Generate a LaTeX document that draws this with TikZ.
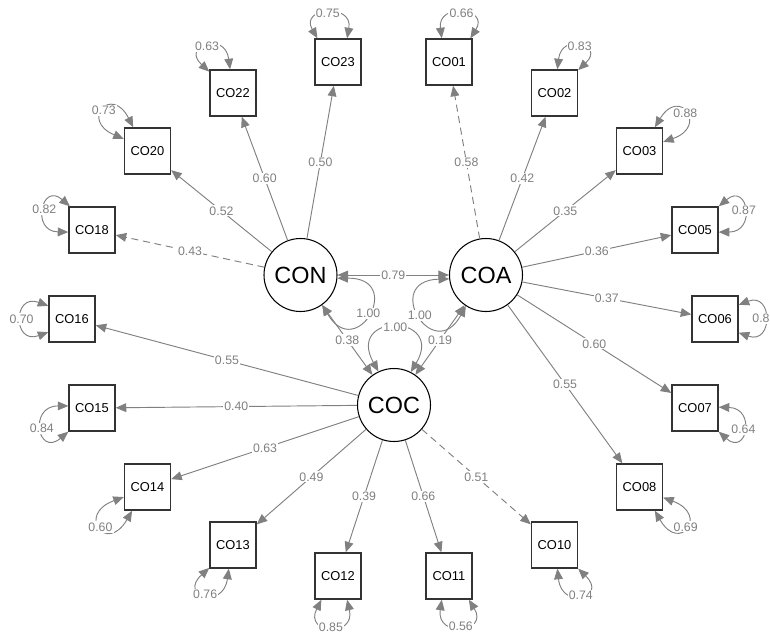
\documentclass[tikz,border=0pt]{standalone}
\usepackage{fontspec}
\setmainfont{Liberation Sans}
\usetikzlibrary{arrows.meta}

\begin{document}
\begin{tikzpicture}[x=0.03cm, y=0.03cm,
	obs/.style={draw=black!80, line width=1.2pt, minimum size=1.38cm, inner sep=0pt, font=\fontsize{11}{13}\selectfont},
	lat/.style={circle, draw, line width=0.9pt, minimum size=2.19cm, inner sep=0pt, font=\fontsize{20}{24}\selectfont},
	lab/.style={fill=white, inner sep=1pt, text=gray, font=\fontsize{10.5}{12}\selectfont},
	load/.style={color=gray, line width=0.8pt, -{Triangle[length=9pt,width=7.5pt]}},
	cov/.style={color=gray, line width=0.8pt, {Triangle[length=9pt,width=7.5pt]}-{Triangle[length=9pt,width=7.5pt]}},
	fixed/.style={dash pattern=on 6pt off 4pt}]
	\useasboundingbox (0,0) rectangle (770,-635);

	\node[lat] (CON) at (300.5,-275) {CON};
	\node[lat] (COA) at (486,-275) {COA};
	\node[lat] (COC) at (394,-405) {COC};

	\node[obs] (co23) at (338,-62) {CO23};
	\node[obs] (co22) at (233,-93) {CO22};
	\node[obs] (co20) at (147.5,-151) {CO20};
	\node[obs] (co18) at (92,-230) {CO18};
	\node[obs] (co16) at (72,-319) {CO16};
	\node[obs] (co15) at (92,-408) {CO15};
	\node[obs] (co14) at (147.5,-487) {CO14};
	\node[obs] (co13) at (233,-545) {CO13};
	\node[obs] (co12) at (338,-576) {CO12};
	\node[obs] (co11) at (449,-576) {CO11};
	\node[obs] (co10) at (554.5,-545) {CO10};
	\node[obs] (co08) at (639.5,-487) {CO08};
	\node[obs] (co07) at (695,-408) {CO07};
	\node[obs] (co06) at (715,-319) {CO06};
	\node[obs] (co05) at (695,-230) {CO05};
	\node[obs] (co03) at (639.5,-151) {CO03};
	\node[obs] (co02) at (554.5,-93) {CO02};
	\node[obs] (co01) at (449,-62) {CO01};

	% loadings
	\path[load]
	(CON) edge[fixed] node[lab] {0.43} (co18)
	edge node[lab] {0.52} (co20)
	edge node[lab] {0.60} (co22)
	edge node[lab] {0.50} (co23)
	(COA) edge[fixed] node[lab] {0.58} (co01)
	edge node[lab] {0.42} (co02)
	edge node[lab] {0.35} (co03)
	edge node[lab] {0.36} (co05)
	edge node[lab] {0.37} (co06)
	edge node[lab] {0.60} (co07)
	edge node[lab] {0.55} (co08)
	(COC) edge[fixed] node[lab] {0.51} (co10)
	edge node[lab] {0.66} (co11)
	edge node[lab] {0.39} (co12)
	edge node[lab] {0.49} (co13)
	edge node[lab] {0.63} (co14)
	edge node[lab] {0.40} (co15)
	edge node[lab] {0.55} (co16)
	;
	% covariances
	\path[cov]
	(CON) edge node[lab] {0.79} (COA)
	edge node[lab] {0.38} (COC)
	(COA) edge node[lab] {0.19} (COC)
	;
	% variances
	\path[cov]
	(CON.-5) edge[out=0.5, in=-59.5, distance=2.04cm] node[lab] {1.00} (CON.-54)
	(COA.237) edge[out=241.5, in=181.5, distance=2.04cm] node[lab] {1.00} (COA.186)
	(COC.115) edge[out=119, in=59, distance=2.04cm] node[lab] {1.00} (COC.63)
	(co23.131) edge[out=120, in=80, distance=1.08cm] node[lab] {0.75} (co23.69)
	(co22.138) edge[out=137.5, in=97.5, distance=1.17cm] node[lab] {0.63} (co22.97)
	(co20.153) edge[out=157, in=117, distance=1.44cm] node[lab] {0.73} (co20.121)
	(co18.185) edge[out=179, in=139, distance=1.13cm] node[lab] {0.82} (co18.133)
	(co16.209) edge[out=200, in=160, distance=1.14cm] node[lab] {0.70} (co16.151)
	(co15.225) edge[out=220, in=180, distance=1.2cm] node[lab] {0.84} (co15.175)
	(co14.237) edge[out=240, in=200, distance=1.53cm] node[lab] {0.60} (co14.203)
	(co13.260) edge[out=262, in=222, distance=1.26cm] node[lab] {0.76} (co13.224)
	(co12.291) edge[out=283, in=243, distance=1.17cm] node[lab] {0.85} (co12.235)
	(co11.310) edge[out=301.5, in=261.5, distance=1.17cm] node[lab] {0.56} (co11.253)
	(co10.315) edge[out=316, in=276, distance=1.26cm] node[lab] {0.74} (co10.277)
	(co08.336) edge[out=339.5, in=299.5, distance=1.49cm] node[lab] {0.69} (co08.303)
	(co07.2) edge[out=-1.5, in=-41.5, distance=1.13cm] node[lab] {0.64} (co07.-45)
	(co06.31) edge[out=20.5, in=-19.5, distance=1.1cm] node[lab, xshift=-3pt] {0.8} (co06.-30)
	(co05.45) edge[out=40, in=0, distance=1.14cm] node[lab] {0.87} (co05.-5)
	(co03.57) edge[out=59, in=19, distance=1.44cm] node[lab] {0.88} (co03.21)
	(co02.83) edge[out=83.5, in=43.5, distance=1.13cm] node[lab] {0.83} (co02.44)
	(co01.107) edge[out=97.5, in=57.5, distance=1.09cm] node[lab] {0.66} (co01.48)
	;
\end{tikzpicture}
\end{document}
